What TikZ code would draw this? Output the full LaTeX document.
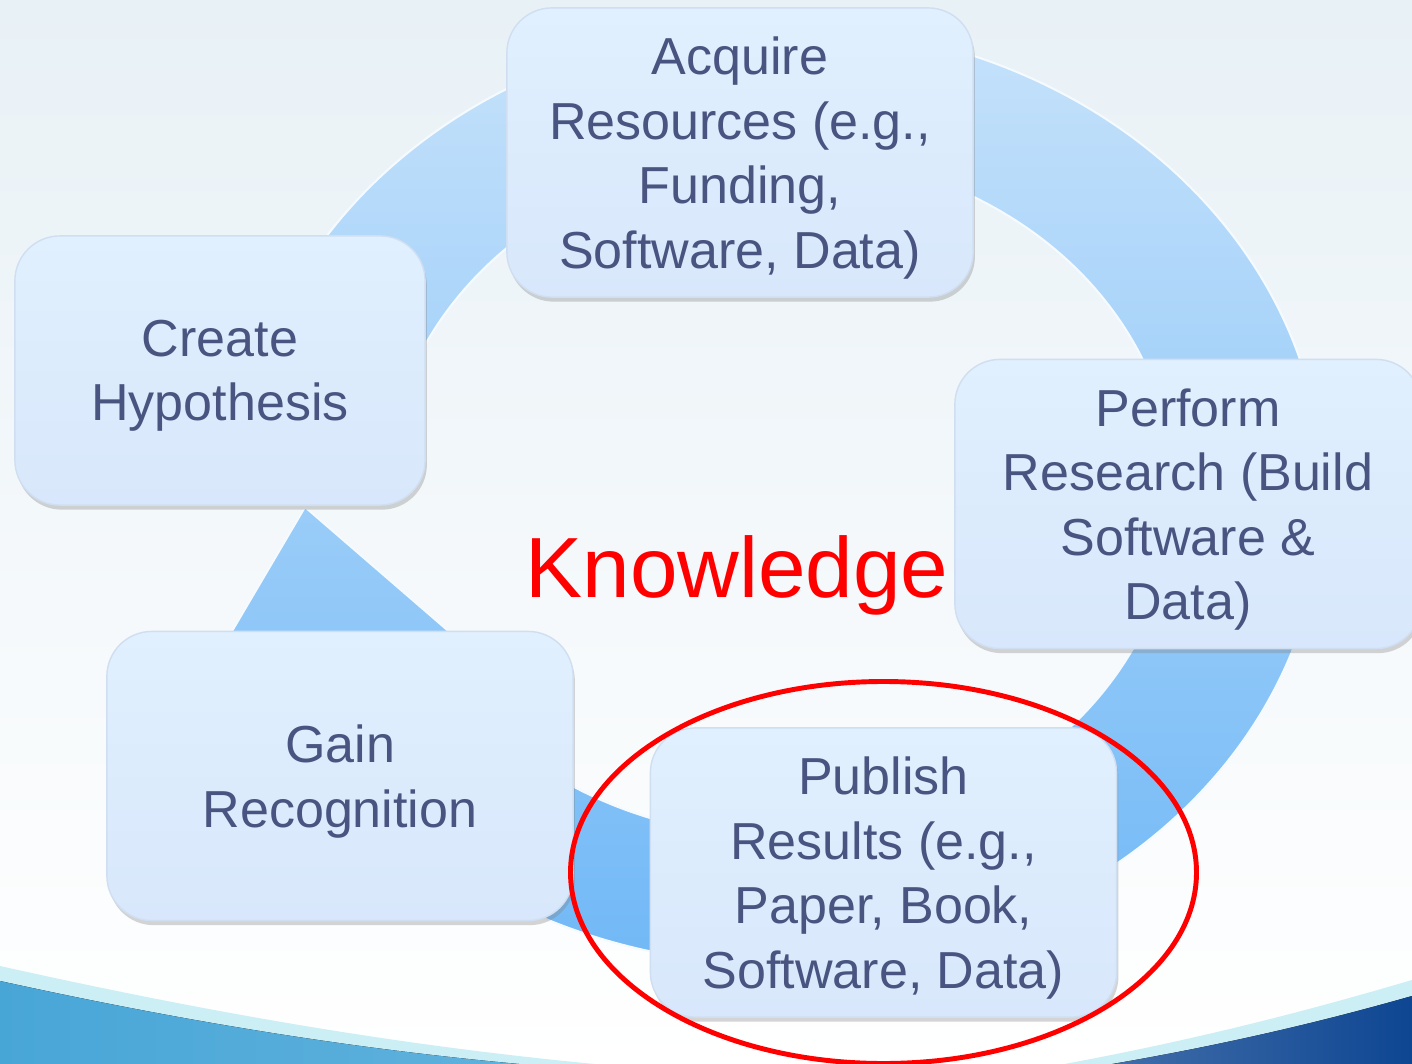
\documentclass[tikz,border=0pt]{standalone}
\usepackage{fontspec}
\setmainfont{Liberation Sans}
\usetikzlibrary{shadows, calc}
\definecolor{skytop}{RGB}{232,241,246}
\definecolor{ringtop}{RGB}{202,228,251}
\definecolor{ringbot}{RGB}{108,182,246}
\definecolor{cardtop}{RGB}{224,240,254}
\definecolor{cardbot}{RGB}{216,231,251}
\definecolor{cardline}{RGB}{208,222,241}
\definecolor{cardtext}{RGB}{74,84,128}
\definecolor{waveleft}{RGB}{72,166,215}
\definecolor{waveright}{RGB}{14,70,146}
\definecolor{waveedge}{RGB}{204,239,246}

\begin{document}
\begin{tikzpicture}[x=0.01cm, y=-0.01cm,
    card/.style={rounded corners=12.8pt, top color=cardtop, bottom color=cardbot,
                 draw=cardline, line width=0.4pt, text=cardtext, align=center,
                 minimum width=4.66cm, minimum height=2.89cm, inner sep=0pt, text depth=0pt,
                 drop shadow={shadow xshift=0.5pt, shadow yshift=-1.3pt, opacity=0.33},
                 font=\fontsize{14.8}{18.35}\selectfont},
    ring/.style={top color=ringtop, bottom color=ringbot, draw=white!80!ringtop, line width=0.6pt}
  ]
  \useasboundingbox (0,0) rectangle (1412,1064);
  \fill[top color=skytop, bottom color=white] (0,0) rectangle (1412,1064);

  % swoosh along the lower edge
  \fill[waveedge] (0,966) .. controls (260,1024) and (470,1056) .. (690,1072) -- (0,1072) -- cycle;
  \fill[left color=waveleft, right color=waveleft!85!white]
    (0,981) .. controls (250,1036) and (440,1060) .. (620,1072) -- (0,1072) -- cycle;
  \fill[waveedge] (1412,980) .. controls (1290,1016) and (1170,1046) .. (1020,1072) -- (1412,1072) -- cycle;
  \fill[left color=waveright!75!white, right color=waveright]
    (1412,996) .. controls (1300,1028) and (1190,1052) .. (1064,1072) -- (1412,1072) -- cycle;

  % cycle arrow
  \coordinate (hub) at (780,495);
  \path[ring] (hub) ++(195:543 and 470)
    arc[start angle=195, end angle=515, x radius=543, y radius=470]
    -- (215,660) -- (305,507) -- (482,660)
    -- ($(hub)+(515:395 and 342)$)
    arc[start angle=515, end angle=195, x radius=395, y radius=342] -- cycle;

  \node[card] (acquire) at (740,152.5) {Acquire\\Resources (e.g.,\\Funding,\\Software, Data)};
  \node[card, minimum width=4.10cm, minimum height=2.69cm] (create) at (220,370.5) {Create\\Hypothesis};
  \node[card] (perform) at (1188,504) {Perform\\Research (Build\\Software \&\\Data)};
  \node[card] (gain) at (340,776) {Gain\\Recognition};
  \node[card] (publish) at (883.5,872.5) {Publish\\Results (e.g.,\\Paper, Book,\\Software, Data)};

  \node[anchor=base, text=red, inner sep=0pt, font=\fontsize{24.3}{29}\selectfont] (knowledge) at (737,597) {Knowledge};

  % highlight round the publishing step
  \draw[red, line width=1.4pt] (publish.center) ellipse [x radius=313, y radius=191];
\end{tikzpicture}
\end{document}
